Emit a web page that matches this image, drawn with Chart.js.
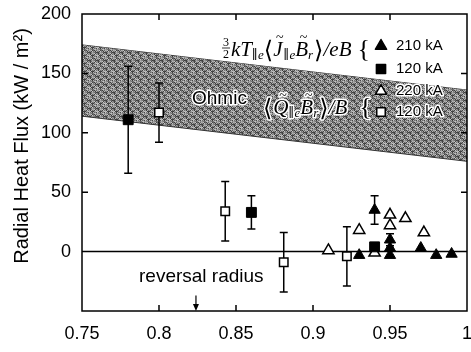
<!DOCTYPE html>
<html><head><meta charset="utf-8">
<script src="https://cdn.jsdelivr.net/npm/chart.js@4.4.0/dist/chart.umd.min.js"></script>
<style>html,body{margin:0;padding:0;background:#fff}#wrap{width:471px;height:352px}</style>
</head><body><div id="wrap"><canvas id="c" width="471" height="352"></canvas></div>
<script>
const xTickValues = [0.75, 0.8, 0.85, 0.9, 0.95, 1.0];
const xTickLabels = ['0.75', '0.8', '0.85', '0.9', '0.95', '1'];
const yTickValues = [0, 50, 100, 150, 200];
const yTickLabels = ['0', '50', '100', '150', '200'];

// Ohmic band (upper / lower edge)
const bandX = [0.75, 1.0];
const bandUpper = [174, 136];
const bandLower = [114, 76];

// 3/2 kT <J B>/eB : 210 kA (filled triangles)
const tri210X = [0.930, 0.940, 0.950, 0.950, 0.950, 0.970, 0.980, 0.990];
const tri210Y = [-3, 35, 10, 3, -3, 3, -3, -2];
const tri210Err = [0, 12, 5, 0, 0, 0, 0, 0];
// 3/2 kT <J B>/eB : 120 kA (filled squares)
const sq120X = [0.780, 0.860, 0.940];
const sq120Y = [111, 33, 4];
const sq120Err = [45, 14, 0];
// <Q B>/B : 220 kA (open triangles)
const otri220X = [0.910, 0.930, 0.940, 0.950, 0.950, 0.960, 0.972];
const otri220Y = [1, 18, -1, 31, 22, 28, 16];
// <Q B>/B : 120 kA (open squares)
const osq120X = [0.800, 0.843, 0.881, 0.922];
const osq120Y = [117, 34, -9, -4];
const osq120Err = [25, 25, 25, 25];

const reversalRadius = 0.824;

const SANS = '"Liberation Sans", Arial, sans-serif';
const SERIF = '"Liberation Serif", "DejaVu Serif", serif';

const mk = (xs, ys) => xs.map((x, i) => ({x: x, y: ys[i]}));

const canvas = document.getElementById('c');
const ctx0 = canvas.getContext('2d');
function makePattern() {
  const c = document.createElement('canvas'); c.width = 8; c.height = 8;
  const g = c.getContext('2d');
  const levels = [70, 160, 105, 195, 60, 140, 115, 180];
  for (let i = 0; i < 8; i++) for (let j = 0; j < 8; j++) {
    const v = levels[(i * 3 + j * 5 + ((i * j) % 3)) % 8];
    g.fillStyle = 'rgb(' + v + ',' + v + ',' + v + ')';
    g.fillRect(i, j, 1, 1);
  }
  return ctx0.createPattern(c, 'repeat');
}
const bandPattern = makePattern();

const errorSets = [
  {xs: tri210X, ys: tri210Y, es: tri210Err},
  {xs: sq120X, ys: sq120Y, es: sq120Err},
  {xs: osq120X, ys: osq120Y, es: osq120Err}
];

const errorBars = {
  id: 'errorBars',
  afterDatasetDraw(chart, args) {
    if (chart.data.datasets[args.index].id !== 'zero') return;
    const {ctx, scales: {x, y}} = chart;
    ctx.save();
    ctx.strokeStyle = '#000'; ctx.lineWidth = 1.5;
    errorSets.forEach(s => s.xs.forEach((xv, i) => {
      const e = s.es[i]; if (!e) return;
      const px = x.getPixelForValue(xv);
      const t = y.getPixelForValue(s.ys[i] + e), b = y.getPixelForValue(s.ys[i] - e);
      ctx.beginPath();
      ctx.moveTo(px, t); ctx.lineTo(px, b);
      ctx.moveTo(px - 4, t); ctx.lineTo(px + 4, t);
      ctx.moveTo(px - 4, b); ctx.lineTo(px + 4, b);
      ctx.stroke();
    }));
    ctx.restore();
  }
};

function drawRuns(ctx, x, base, parts, halo) {
  for (const p of parts) {
    ctx.font = p.f;
    const w = ctx.measureText(p.t).width;
    const yy = base + (p.dy || 0);
    if (halo) { ctx.strokeText(p.t, x, yy); }
    ctx.fillText(p.t, x, yy);
    if (p.tilde) {
      ctx.font = '14px ' + SERIF;
      const tw = ctx.measureText('~').width;
      if (halo) ctx.strokeText('~', x + w / 2 - tw / 2 + 2, yy - 14);
      ctx.fillText('~', x + w / 2 - tw / 2 + 2, yy - 14);
    }
    x += w + (p.after || 0);
  }
  return x;
}

const annotations = {
  id: 'annotations',
  afterDraw(chart) {
    const {ctx, chartArea: a, scales: {x, y}} = chart;
    ctx.save();
    // frame
    ctx.strokeStyle = '#000'; ctx.lineWidth = 1.5;
    ctx.strokeRect(a.left, a.top, a.right - a.left, a.bottom - a.top);
    ctx.beginPath();
    xTickValues.slice(1, -1).forEach(v => {
      const px = x.getPixelForValue(v);
      ctx.moveTo(px, a.bottom); ctx.lineTo(px, a.bottom - 6);
      ctx.moveTo(px, a.top); ctx.lineTo(px, a.top + 6);
    });
    yTickValues.slice(1, -1).forEach(v => {
      const py = y.getPixelForValue(v);
      ctx.moveTo(a.left, py); ctx.lineTo(a.left + 6, py);
      ctx.moveTo(a.right, py); ctx.lineTo(a.right - 6, py);
    });
    ctx.stroke();

    // y-axis title
    ctx.fillStyle = '#000';
    ctx.save();
    ctx.translate(22, 146); ctx.rotate(-Math.PI / 2);
    ctx.font = '20px ' + SANS; ctx.textAlign = 'center'; ctx.textBaseline = 'middle';
    ctx.fillText('Radial Heat Flux (kW / m\u00B2)', 0, 0);
    ctx.restore();

    // reversal radius
    ctx.font = '19px ' + SANS; ctx.textAlign = 'left'; ctx.textBaseline = 'middle';
    ctx.fillText('reversal radius', 139, 277);
    const ax = x.getPixelForValue(reversalRadius);
    const ay0 = y.getPixelForValue(-37), ay1 = y.getPixelForValue(-50);
    ctx.lineWidth = 1.2;
    ctx.beginPath(); ctx.moveTo(ax, ay0); ctx.lineTo(ax, ay1 - 5); ctx.stroke();
    ctx.beginPath(); ctx.moveTo(ax - 3, ay1 - 7); ctx.lineTo(ax + 3, ay1 - 7); ctx.lineTo(ax, ay1); ctx.closePath(); ctx.fill();

    // formula line 1
    ctx.textBaseline = 'alphabetic';
    ctx.font = '12px ' + SERIF;
    ctx.fillText('3', 223, 46);
    ctx.fillText('2', 223, 58);
    ctx.lineWidth = 0.8;
    ctx.beginPath(); ctx.moveTo(222, 48); ctx.lineTo(230, 48); ctx.stroke();
    const F = 'italic 21px ' + SERIF, S = 'italic 13px ' + SERIF, B = '24px "DejaVu Serif", serif';
    drawRuns(ctx, 231, 56, [
      {t: 'kT', f: F}, {t: '\u2225e', f: S, dy: 3},
      {t: '\u27E8', f: B, dy: 2}, {t: 'J', f: F, tilde: true, after: 1}, {t: '\u2225e', f: S, dy: 3},
      {t: 'B', f: F, tilde: true}, {t: 'r', f: S, dy: 3, after: 1},
      {t: '\u27E9', f: B, dy: 2}, {t: '/eB', f: F, after: 6}, {t: '{', f: '26px ' + SERIF, dy: 1}
    ], false);

    // formula line 2 and Ohmic (with white halo)
    ctx.strokeStyle = '#fff'; ctx.lineWidth = 3; ctx.lineJoin = 'round';
    ctx.font = '19px ' + SANS;
    ctx.strokeText('Ohmic', 192, 104); ctx.fillText('Ohmic', 192, 104);
    drawRuns(ctx, 263, 114, [
      {t: '\u27E8', f: B, dy: 2, after: 1}, {t: 'Q', f: F, tilde: true}, {t: '\u2225e', f: S, dy: 3},
      {t: 'B', f: F, tilde: true}, {t: 'r', f: S, dy: 3, after: 1},
      {t: '\u27E9', f: B, dy: 2}, {t: '/B', f: F, after: 12}, {t: '{', f: '26px ' + SERIF, dy: 1}
    ], true);

    // legend entries
    const H = Chart.helpers;
    const items = [
      {style: 'triangle', r: 6.5, fill: '#000', y: 46, label: '210 kA'},
      {style: 'rect', r: 6.5, fill: '#000', y: 69, label: '120 kA'},
      {style: 'triangle', r: 6.5, fill: '#fff', y: 91, label: '220 kA'},
      {style: 'rect', r: 6, fill: '#fff', y: 112, label: '120 kA'}
    ];
    items.forEach((it, i) => {
      ctx.fillStyle = it.fill; ctx.strokeStyle = '#000'; ctx.lineWidth = 1.5;
      H.drawPoint(ctx, {pointStyle: it.style, radius: it.r, borderWidth: 1.5}, 381, it.y);
      ctx.font = '15px ' + SANS; ctx.textBaseline = 'middle'; ctx.fillStyle = '#000';
      if (i >= 2) { ctx.strokeStyle = '#fff'; ctx.lineWidth = 3; ctx.strokeText(it.label, 396, it.y); }
      ctx.fillText(it.label, 396, it.y);
    });
    ctx.restore();
  }
};

new Chart(canvas, {
  type: 'scatter',
  data: {
    datasets: [
      {id: 'bandTop', type: 'line', data: mk(bandX, bandUpper), borderColor: '#333', borderWidth: 1, pointRadius: 0, fill: false, order: 10},
      {id: 'bandLow', type: 'line', data: mk(bandX, bandLower), borderColor: '#333', borderWidth: 1, pointRadius: 0, fill: '-1', backgroundColor: bandPattern, order: 9},
      {id: 'zero', type: 'line', data: mk([0.75, 1.0], [0, 0]), borderColor: '#000', borderWidth: 1.5, pointRadius: 0, fill: false, order: 8},
      {id: 'otri', data: mk(otri220X, otri220Y), pointStyle: 'triangle', pointRadius: 6.5, backgroundColor: '#fff', borderColor: '#000', borderWidth: 1.5, order: 4},
      {id: 'tri', data: mk(tri210X, tri210Y), pointStyle: 'triangle', pointRadius: 6.5, backgroundColor: '#000', borderColor: '#000', borderWidth: 1, order: 3},
      {id: 'osq', data: mk(osq120X, osq120Y), pointStyle: 'rect', pointRadius: 6, backgroundColor: '#fff', borderColor: '#000', borderWidth: 1.5, order: 2},
      {id: 'sq', data: mk(sq120X, sq120Y), pointStyle: 'rect', pointRadius: 7, backgroundColor: '#000', borderColor: '#000', borderWidth: 1, order: 1}
    ]
  },
  options: {
    responsive: false, animation: false, devicePixelRatio: 1,
    layout: {autoPadding: false, padding: {top: 14, right: 0, left: 0, bottom: 0}},
    plugins: {legend: {display: false}, tooltip: {enabled: false}},
    scales: {
      x: {
        type: 'linear', min: 0.75, max: 1.0,
        grid: {display: false}, border: {display: false},
        afterBuildTicks: s => { s.ticks = xTickValues.map(v => ({value: v})); },
        afterFit: s => { s.height = 41; s.paddingRight = 4; s.paddingLeft = 0; },
        ticks: {color: '#000', font: {family: SANS, size: 18}, padding: 4, maxRotation: 0,
          callback: (v, i) => xTickLabels[i]}
      },
      y: {
        type: 'linear', min: -50, max: 200,
        grid: {display: false}, border: {display: false},
        afterBuildTicks: s => { s.ticks = yTickValues.map(v => ({value: v})); },
        afterFit: s => { s.width = 82; },
        ticks: {color: '#000', font: {family: SANS, size: 18}, padding: 3,
          callback: (v, i) => yTickLabels[i]}
      }
    }
  },
  plugins: [errorBars, annotations]
});
</script>
</body></html>
